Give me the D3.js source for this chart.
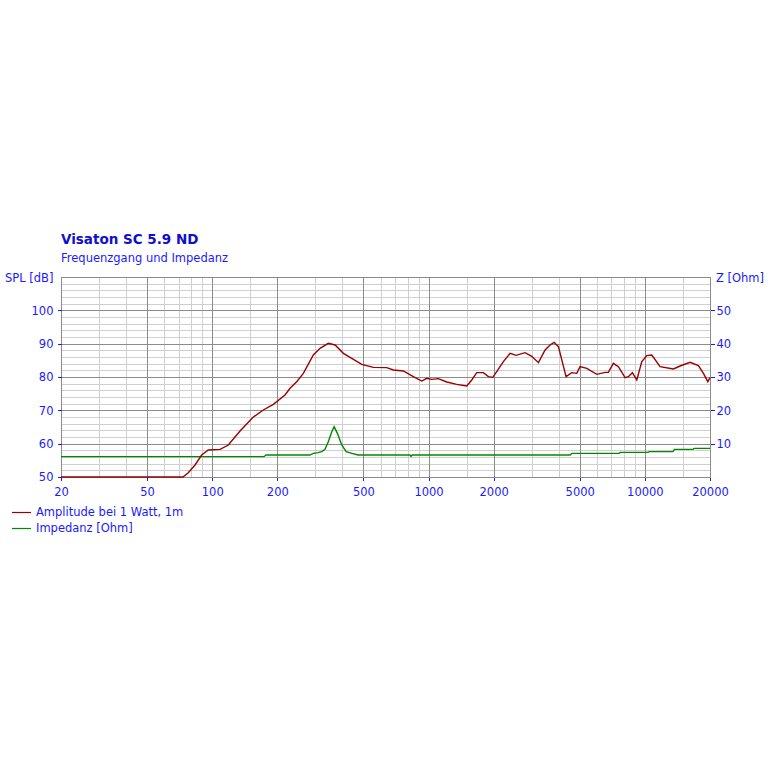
<!DOCTYPE html>
<html><head><meta charset="utf-8">
<script src="https://cdn.jsdelivr.net/npm/d3@7"></script>
<style>html,body{margin:0;padding:0;background:#fff;}</style>
</head><body>
<svg id="chart" width="768" height="768"></svg>
<script>
// ---- data ----
const title = "Visaton SC 5.9 ND";
const subtitle = "Frequenzgang und Impedanz";
const seriesNames = ["Amplitude bei 1 Watt, 1m", "Impedanz [Ohm]"];
const xTickValues = [20, 50, 100, 200, 500, 1000, 2000, 5000, 10000, 20000];
const xMajorGrid = [50, 100, 200, 500, 1000, 2000, 5000, 10000];
const xMinorGrid = [30, 40, 60, 70, 80, 90, 150, 300, 400, 600, 700, 800, 900, 1500, 3000, 4000, 6000, 7000, 8000, 9000, 15000];
const yLeftTicks = [50, 60, 70, 80, 90, 100];
const yRightTicks = [10, 20, 30, 40, 50];

const splFreq = [20, 73.3, 77.5, 83.3, 89.4, 95.9, 108.7, 118.7, 134.5, 154.9, 172.3, 191.7, 217, 229, 245.8, 263.8, 293.4, 315, 344, 370, 404, 441.6, 491, 556, 641, 688, 765, 851, 930, 981, 1035, 1110, 1214, 1350, 1502, 1584, 1670, 1793, 1890, 1981, 2066, 2218, 2382, 2538, 2794, 3000, 3220, 3458, 3646, 3804, 3984, 4322, 4592, 4844, 5017, 5388, 5994, 6546, 6780, 7152, 7544, 8102, 8390, 8756, 9176, 9678, 10206, 10764, 11758, 13546, 14548, 16182, 17680, 18646, 19536, 20000];
const splDb = [50, 50, 51.3, 53.6, 56.6, 58.1, 58.3, 59.6, 63.8, 68.0, 70.1, 71.8, 74.6, 76.6, 78.6, 81.1, 86.6, 88.6, 90.1, 89.6, 87.1, 85.6, 83.8, 82.9, 82.8, 82.1, 81.8, 80.1, 78.8, 79.6, 79.3, 79.5, 78.5, 77.8, 77.3, 79.1, 81.3, 81.3, 80.1, 79.9, 81.6, 84.6, 87.1, 86.5, 87.3, 86.2, 84.3, 88.1, 89.6, 90.4, 89.1, 80.1, 81.3, 81.1, 83.1, 82.6, 80.8, 81.4, 81.4, 84.1, 83.1, 79.8, 80.1, 81.3, 79.1, 84.6, 86.4, 86.6, 83.1, 82.4, 83.3, 84.4, 83.4, 81.1, 78.6, 79.8];

const zFreq = [20, 173.6, 177.4, 283, 293, 309, 321, 332, 344, 357, 366, 379, 397, 416, 442, 472, 820, 830, 840, 4510, 4600, 7598, 7700, 10340, 10500, 13500, 13700, 16712, 16900, 20000];
const zOhm = [6.1, 6.1, 6.6, 6.6, 7.1, 7.3, 7.6, 8.3, 10.6, 13.6, 15.1, 13.1, 9.6, 7.6, 7.1, 6.6, 6.6, 6.2, 6.6, 6.6, 7.1, 7.1, 7.4, 7.4, 7.6, 7.6, 8.3, 8.3, 8.6, 8.6];

// ---- layout ----
const L = 61, R = 710, T = 277, B = 477;
const blue = "#1a1aff", titleBlue = "#0f0fcc";
const font = "Tahoma, 'DejaVu Sans', sans-serif";
const fs = "11.5px";

const svg = d3.select("#chart");
svg.append("rect").attr("width", 768).attr("height", 768).attr("fill", "#fff");

const x = d3.scaleLog().domain([20, 20000]).range([L, R]);
const yL = d3.scaleLinear().domain([50, 110]).range([B, T]);
const yR = d3.scaleLinear().domain([0, 60]).range([B, T]);

const g = svg.append("g").attr("shape-rendering", "crispEdges");
// minor horizontal grid every 2 dB
const hMinor = d3.range(52, 110, 2).filter(v => v % 10 !== 0);
g.selectAll(".hmin").data(hMinor).join("line")
  .attr("x1", L).attr("x2", R).attr("y1", d => Math.round(yL(d)) + 0.5).attr("y2", d => Math.round(yL(d)) + 0.5)
  .attr("stroke", "#cfcfcf").attr("stroke-width", 1);
g.selectAll(".vmin").data(xMinorGrid).join("line")
  .attr("y1", T).attr("y2", B).attr("x1", d => Math.round(x(d)) + 0.5).attr("x2", d => Math.round(x(d)) + 0.5)
  .attr("stroke", "#cfcfcf").attr("stroke-width", 1);
g.selectAll(".hmaj").data([60, 70, 80, 90, 100]).join("line")
  .attr("x1", L).attr("x2", R).attr("y1", d => Math.round(yL(d)) + 0.5).attr("y2", d => Math.round(yL(d)) + 0.5)
  .attr("stroke", "#8c8c8c").attr("stroke-width", 1);
g.selectAll(".vmaj").data(xMajorGrid).join("line")
  .attr("y1", T).attr("y2", B).attr("x1", d => Math.round(x(d)) + 0.5).attr("x2", d => Math.round(x(d)) + 0.5)
  .attr("stroke", "#8c8c8c").attr("stroke-width", 1);
// frame
g.append("rect").attr("x", L + 0.5).attr("y", T + 0.5).attr("width", R - L).attr("height", B - T)
  .attr("fill", "none").attr("stroke", "#8c8c8c");

// axes ticks
const axL = d3.axisLeft(yL).tickValues(yLeftTicks).tickSize(4).tickPadding(4);
const axR = d3.axisRight(yR).tickValues(yRightTicks).tickSize(4).tickPadding(2);
const axB = d3.axisBottom(x).tickValues(xTickValues).tickFormat(d3.format("d")).tickSize(3).tickPadding(7);
function styleAxis(sel) {
  sel.select(".domain").remove();
  sel.selectAll("line").attr("stroke", blue).attr("shape-rendering", "crispEdges");
  sel.selectAll("text").attr("fill", blue).style("font-family", font).style("font-size", fs);
}
svg.append("g").attr("transform", `translate(${L + 0.5},0)`).call(axL).call(styleAxis);
svg.append("g").attr("transform", `translate(${R + 0.5},0)`).call(axR).call(styleAxis);
svg.append("g").attr("transform", `translate(0,${B + 0.5})`).call(axB).call(styleAxis);

// axis titles
svg.append("text").attr("x", 5).attr("y", 282).text("SPL [dB]")
  .attr("fill", blue).style("font-family", font).style("font-size", fs);
svg.append("text").attr("x", 716).attr("y", 282).text("Z [Ohm]")
  .attr("fill", blue).style("font-family", font).style("font-size", fs);

// titles
svg.append("text").attr("x", 61).attr("y", 244).text(title)
  .attr("fill", titleBlue).style("font-family", font).style("font-size", "13.5px").style("font-weight", "bold");
svg.append("text").attr("x", 61).attr("y", 262).text(subtitle)
  .attr("fill", blue).style("font-family", font).style("font-size", fs);

// curves
svg.append("clipPath").attr("id", "clip").append("rect")
  .attr("x", L).attr("y", T).attr("width", R - L + 1).attr("height", B - T + 1);
const splData = splFreq.map((f, i) => [f, splDb[i]]);
const zData = zFreq.map((f, i) => [f, zOhm[i]]);
const colors = ["#990000", "#008800"];
svg.append("path").datum(zData).attr("clip-path", "url(#clip)")
  .attr("d", d3.line().x(d => x(d[0])).y(d => yR(d[1])))
  .attr("fill", "none").attr("stroke", colors[1]).attr("stroke-width", 1.4);
svg.append("path").datum(splData).attr("clip-path", "url(#clip)")
  .attr("d", d3.line().x(d => x(d[0])).y(d => yL(d[1])))
  .attr("fill", "none").attr("stroke", colors[0]).attr("stroke-width", 1.4);

// legend
const leg = svg.append("g");
seriesNames.forEach((n, i) => {
  const yy = 512 + i * 16;
  leg.append("line").attr("x1", 12).attr("x2", 31).attr("y1", yy + 0.5).attr("y2", yy + 0.5)
    .attr("stroke", colors[i]).attr("stroke-width", 1.2);
  leg.append("text").attr("x", 36).attr("y", yy + 4).text(n)
    .attr("fill", blue).style("font-family", font).style("font-size", fs);
});
</script>
</body></html>
